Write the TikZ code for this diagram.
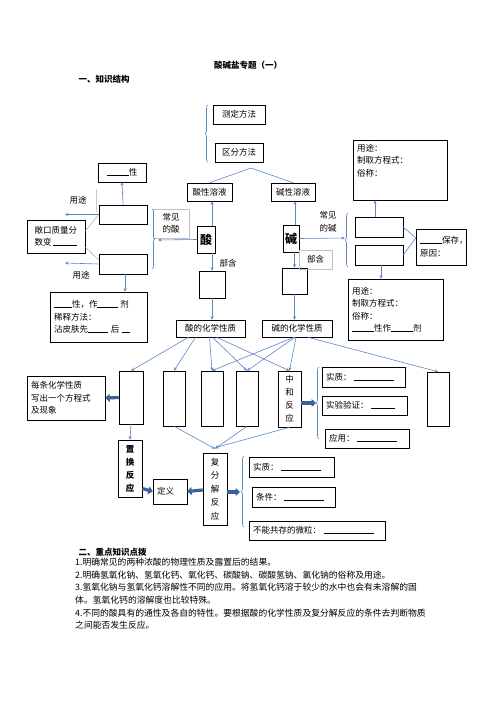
\documentclass[tikz,border=0pt]{standalone}
\usepackage{fontspec}
\setmainfont{Noto Sans CJK SC}
\usetikzlibrary{arrows.meta,positioning,decorations.pathreplacing}
\definecolor{MapBlue}{HTML}{5B87C5}
\definecolor{MapDark}{HTML}{3A6299}
\definecolor{MapGray}{HTML}{A6A6A6}
\newcommand{\fillin}[1]{\rule{#1}{0.5pt}}
\newcommand{\mapfont}{\fontsize{8.5}{12.5}\selectfont}

\begin{document}
\begin{tikzpicture}[x=1pt,y=-1pt,
  box/.style={draw,line width=0.5pt,inner sep=2pt,align=center,font=\mapfont},
  lbox/.style={box,align=left,inner xsep=4pt},
  soft/.style={box,draw=MapGray!70},
  vbox/.style={box,font=\fontsize{8.5}{13}\selectfont},
  link/.style={MapBlue,line width=0.6pt},
  arr/.style={-{Stealth[length=3.5pt,width=3pt]},MapBlue,line width=0.6pt},
  fat/.style={-{Triangle[length=4.5pt,width=8pt]},MapDark,line width=3.2pt},
  brc/.style={MapBlue,line width=0.6pt,decorate,decoration={brace,amplitude=3pt}},
]
\useasboundingbox (0,0) rectangle (496,702);

% headings
\node[font=\bfseries\mapfont] (title) at (248,65) {酸碱盐专题（一）};
\node[font=\bfseries\mapfont,anchor=west] (sec1) at (75,79) {一、知识结构};

% indicator part
\node[box,minimum width=52pt,minimum height=19pt] (measure) at (239,114.5) {测定方法};
\node[box,minimum width=48pt,minimum height=19pt] (distinguish) at (239,152.5) {区分方法};
\draw[brc] (208,162) -- (208,105);
\coordinate (split) at (251,168);
\node[box,minimum width=45pt,minimum height=18pt] (acidsol) at (209.5,192) {酸性溶液};
\node[box,minimum width=44pt,minimum height=18pt] (basesol) at (293,192) {碱性溶液};
\draw[link] (split) -- (acidsol.north);
\draw[link] (split) -- (basesol.north);

% acid branch
\node[box,font=\bfseries\fontsize{12}{14}\selectfont,minimum width=18pt,minimum height=27pt] (acid) at (206,239.5) {酸};
\node[soft,minimum width=36pt,minimum height=29pt] (commonacid) at (171,223.5) {常见\\的酸};
\node[box,minimum width=26pt,minimum height=27pt] (acidbelow) at (212,284.5) {};
\node[font=\mapfont] (acidpart) at (228,263) {部含};
\node[box,minimum width=69pt,minimum height=17pt] (acidprop) at (210.5,328.5) {酸的化学性质};
\draw[arr] ([xshift=6pt]acid.north) -- ([xshift=6pt]acid.north |- acidsol.south);
\draw[arr] (acidbelow.north |- acid.south) -- (acidbelow.north);
\draw[arr] (acidbelow.south) -- (acidbelow.south |- acidprop.north);
\draw[brc] (152,209) -- (152,269);
\coordinate (acidbr) at (158,240);
\draw[arr] (acid.west) -- (acidbr);

% left column
\node[box,minimum width=48pt,minimum height=19pt] (acidtrait) at (122,172.5) {\fillin{22pt}性};
\node[box,minimum width=48pt,minimum height=19pt] (boxC) at (123,214.5) {};
\node[box,minimum width=48pt,minimum height=20pt] (boxD) at (123,264) {};
\node[box,align=left,minimum width=58pt,minimum height=33pt] (openbox) at (56,236.5) {敞口质量分\\数变\ \fillin{24pt}};
\node[font=\mapfont] (useA) at (78,200) {用途};
\node[font=\mapfont] (useB) at (81,275) {用途};
\coordinate (usetipA) at (65,214.5);
\coordinate (usetipB) at (65,263);
\draw[MapGray!60,line width=0.5pt] (96,189) -- (96,212);
\draw[arr] (boxC.north) -- (acidtrait.south);
\draw[arr] (boxC.west) -- (usetipA);
\draw[arr] (boxD.west) -- (usetipB);
\draw[MapGray,line width=0.5pt] ([yshift=5.5pt]openbox.east) -- (boxC.west);
\draw[MapGray,line width=0.5pt] ([yshift=-10.5pt]openbox.east) -- ([yshift=4pt]boxD.west);
\node[lbox,text width=89pt,minimum height=50pt] (dilute) at (98.5,317)
  {\fillin{18pt}性，作\fillin{20pt} 剂\\稀释方法：\\沾皮肤先\fillin{20pt} 后 \fillin{8pt}};
\draw[arr] ([xshift=2pt]boxD.south) -- ([xshift=2pt]boxD.south |- dilute.north);

% base branch
\node[box,font=\bfseries\fontsize{12}{14}\selectfont,minimum width=16pt,minimum height=27pt,inner sep=1pt] (base) at (291,238.5) {碱};
\node[font=\mapfont,align=center] (commonbase) at (328,222) {常见\\的碱};
\node[box,minimum width=25pt,minimum height=26pt] (basebelow) at (294.5,281) {};
\node[soft,minimum width=33pt,minimum height=19pt] (basepart) at (315.5,259.5) {部含};
\node[box,minimum width=70pt,minimum height=17pt] (basicprop) at (297,328.5) {碱的化学性质};
\draw[arr] ([xshift=4pt]base.north) -- ([xshift=4pt]base.north |- basesol.south);
\draw[arr] (basebelow.north |- base.south) -- (basebelow.north);
\draw[arr] (basebelow.south) -- (basebelow.south |- basicprop.north);
\coordinate (basebr) at (345,238);
\draw[arr] (base.east) -- (basebr);

% right column
\node[box,minimum width=94pt,minimum height=60pt] (baseuse) at (400,170) {};
\node[font=\mapfont,align=left,anchor=north west,inner sep=0pt] (baseusetext) at (357,144) {用途：\\制取方程式：\\俗称：};
\draw[brc] (348,267) -- (348,213);
\node[box,minimum width=48pt,minimum height=20pt] (boxA) at (379,227) {};
\node[box,minimum width=48pt,minimum height=20pt] (boxB) at (379,255) {};
\node[lbox,text width=42pt,minimum height=36pt] (store) at (441,247) {\fillin{22pt}保存，\\原因：};
\node[lbox,text width=87pt,minimum height=61pt] (baseuse2) at (395.5,309.5)
  {用途：\\制取方程式：\\俗称：\\\fillin{22pt}性作\fillin{22pt}剂};
\draw[arr] ([xshift=-4pt]boxA.north) -- ([xshift=-4pt]boxA.north |- baseuse.south);
\draw[link] (boxA.east) -- ([yshift=9pt]store.west);
\draw[link] (boxB.east) -- ([yshift=9pt]store.west);
\draw[arr] ([xshift=2pt]boxB.south) -- ([xshift=2pt]boxB.south |- baseuse2.north);

% chemical properties
\node[box,minimum width=24pt,minimum height=53pt] (col1) at (131,397.5) {};
\node[box,minimum width=22pt,minimum height=55pt] (col2) at (174,398.5) {};
\node[box,minimum width=22pt,minimum height=55pt] (col3) at (212,398.5) {};
\node[box,minimum width=22pt,minimum height=55pt] (col4) at (247,398.5) {};
\node[vbox,minimum width=23pt,minimum height=56pt] (neut) at (289.5,399) {中\\和\\反\\应};
\node[box,minimum width=22pt,minimum height=54pt] (col6) at (438,399) {};
\node[lbox,text width=70pt,minimum height=44pt] (chemeq) at (66,398) {每条化学性质\\写出一个方程式\\及现象};
\draw[fat] (col1.west) -- (chemeq.east);
\draw[arr] ([xshift=-22pt]acidprop.south) -- (col1.north);
\draw[arr] ([xshift=-15pt]acidprop.south) -- (col2.north);
\draw[arr] ([xshift=-1pt]acidprop.south) -- (col3.north);
\draw[arr] ([xshift=2pt]acidprop.south) -- (col4.north);
\draw[arr] ([xshift=6pt]acidprop.south) -- (neut.north);
\draw[arr] ([xshift=-3pt]basicprop.south) -- (col3.north);
\draw[arr] ([xshift=-2pt]basicprop.south) -- (col4.north);
\draw[arr] ([xshift=-1pt]basicprop.south) -- (neut.north);
\draw[arr] ([xshift=11pt]basicprop.south) -- (col6.north);

% neutralisation
\coordinate (neutbr) at (316,403);
\draw[fat] ([yshift=-4pt]neut.east) -- (neutbr);
\draw[brc] (319,439) -- (319,367);
\node[lbox,text width=75pt,minimum height=20pt] (essence) at (363.5,377) {实质：\ \fillin{40pt}};
\node[lbox,text width=77pt,minimum height=19pt] (verify) at (364.5,405.5) {实验验证：\ \fillin{24pt}};
\node[lbox,text width=76pt,minimum height=19pt] (apply) at (367,438.5) {应用：\ \fillin{40pt}};

% reaction types
\node[vbox,font=\bfseries\fontsize{8.5}{13}\selectfont,minimum width=24pt,minimum height=57pt] (replace) at (130,468.5) {置\\换\\反\\应};
\node[lbox,text width=26pt,minimum height=25pt] (define) at (170,491.5) {定义};
\node[vbox,minimum width=24pt,minimum height=72pt,font=\fontsize{8.5}{13.5}\selectfont] (double) at (215,489) {复\\分\\解\\反\\应};
\draw[arr] (col1.south) -- (replace.north);
\draw[fat] ([yshift=-20pt]replace.east) -- (define.west);
\draw[fat] ([yshift=-1pt]double.west) -- (define.east);
\coordinate (doublebr) at (240,492);
\draw[fat] ([yshift=-3pt]double.east) -- (doublebr);
\draw[arr] (col2.south) -- ([yshift=4pt]double.north);
\draw[arr] (col4.south) -- ([yshift=4pt]double.north);
\draw[arr] (neut.south) -- ([yshift=5pt]double.north);
\draw[brc] (244,527) -- (244,456);
\node[lbox,text width=77pt,minimum height=20pt] (essence2) at (291.5,467) {实质：\ \fillin{40pt}};
\node[lbox,text width=75pt,minimum height=20pt] (cond) at (293.5,497) {条件：\ \fillin{40pt}};
\node[lbox,text width=128pt,minimum height=19pt] (nocoexist) at (317,530.5) {不能共存的微粒：\ \fillin{50pt}};

% key points
\node[font=\bfseries\mapfont,anchor=west] (sec2) at (75,552) {二、重点知识点拨};
\node[anchor=north west,align=left,inner sep=0pt,font=\fontsize{8.8}{12.6}\selectfont] (points) at (75,558) {%
1.明确常见的两种浓酸的物理性质及露置后的结果。\\
2.明确氢氧化钠、氢氧化钙、氧化钙、碳酸钠、碳酸氢钠、氯化钠的俗称及用途。\\
3.氢氧化钠与氢氧化钙溶解性不同的应用。将氢氧化钙溶于较少的水中也会有未溶解的固\\
体。氢氧化钙的溶解度也比较特殊。\\
4.不同的酸具有的通性及各自的特性。要根据酸的化学性质及复分解反应的条件去判断物质\\
之间能否发生反应。};
\end{tikzpicture}
\end{document}
